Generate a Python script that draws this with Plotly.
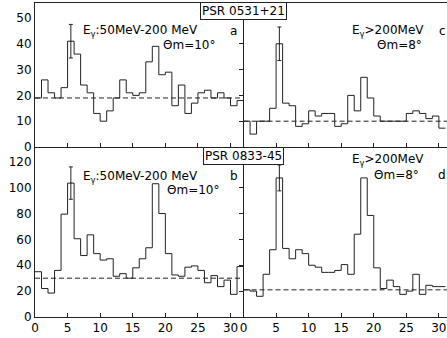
import plotly.graph_objects as go

# ---- data (counts per phase bin, bins of width 1 from 0) ----
vals_a = [19, 26, 21, 19, 23, 41, 36, 24, 21, 13, 10, 14, 19, 26, 21, 20,
          21, 33, 39, 28, 29, 16, 24, 13, 17, 21, 22, 19, 21, 19, 16, 18]
vals_c = [10, 5, 10, 10, 15, 40, 17, 16, 8, 9, 14, 12, 13, 13, 8, 9,
          20, 14, 27, 19, 12, 10, 10, 10, 10, 13, 14, 13, 11, 12, 7.3]
vals_b = [35, 22, 18.5, 36, 79.5, 103.5, 60.5, 47.5, 63.5, 49, 44, 45, 31.5, 33.5, 30, 38,
          45, 53.5, 103, 80, 49, 32.5, 31.5, 38.5, 39.5, 36, 26.5, 32, 23.5, 28.5, 17.5, 39]
vals_d = [21, 20, 16, 33, 52, 107.5, 53, 45, 52, 49, 40, 38.5, 34.5, 34.5, 36, 40.5,
          33, 64, 107.5, 78.5, 38, 22, 28.5, 23.5, 17.5, 20, 33, 17.5, 24.5, 23.5, 23.5]
bg_a, bg_c, bg_b, bg_d = 19, 10, 30, 21
err_a, err_c, err_b, err_d = 6.5, 6.5, 12.5, 10
err_bin = 5

x_ticks = [0, 5, 10, 15, 20, 25, 30]
top_ticks = [0, 10, 20, 30, 40, 50]
bot_ticks = [0, 20, 40, 60, 80, 100, 120]

LC = "#222222"
FONT = "DejaVu Sans"

fig = go.Figure()


def hist(vals, xa, ya):
    edges = list(range(len(vals) + 1))
    ys = list(vals) + [vals[-1]]
    fig.add_trace(go.Scatter(x=edges, y=ys, mode="lines", line=dict(shape="hv", color=LC, width=1),
                             xaxis=xa, yaxis=ya, showlegend=False, hoverinfo="skip"))


def bgline(bg, xa, ya, xmax):
    fig.add_trace(go.Scatter(x=[0, xmax], y=[bg, bg], mode="lines",
                             line=dict(color=LC, width=1, dash="5px,3px"),
                             xaxis=xa, yaxis=ya, showlegend=False, hoverinfo="skip"))


def errbar(vals, e, xa, ya):
    fig.add_trace(go.Scatter(x=[err_bin + 0.5], y=[vals[err_bin]], mode="markers",
                             marker=dict(size=1, color=LC),
                             error_y=dict(type="data", array=[e], color=LC, thickness=1, width=2),
                             xaxis=xa, yaxis=ya, showlegend=False, hoverinfo="skip"))


for vals, bg, e, xa, ya, xmax in [
    (vals_a, bg_a, err_a, "x", "y", 32),
    (vals_c, bg_c, err_c, "x2", "y2", 31.3),
    (vals_b, bg_b, err_b, "x3", "y3", 32),
    (vals_d, bg_d, err_d, "x4", "y4", 31.3),
]:
    bgline(bg, xa, ya, xmax)
    hist(vals, xa, ya)
    errbar(vals, e, xa, ya)

XL = [0, 0.5062]
XR = [0.5062, 1.0]
YB = [0, 0.5414]
YT = [0.5414, 1.0]

common_x = dict(showgrid=False, zeroline=False, showline=True, linecolor=LC, linewidth=1,
                ticks="inside", ticklen=4, tickcolor=LC, tickvals=x_ticks,
                tickfont=dict(family=FONT, size=12, color="black"))
common_y = dict(showgrid=False, zeroline=False, showline=True, linecolor=LC, linewidth=1,
                tickfont=dict(family=FONT, size=12, color="black"))

fig.update_layout(
    width=447, height=338,
    margin=dict(l=35, r=0, t=3, b=21),
    paper_bgcolor="white", plot_bgcolor="white",
    font=dict(family=FONT, size=12, color="black"),
    xaxis=dict(domain=XL, range=[0, 32], anchor="y", showticklabels=False, mirror=True, **common_x),
    xaxis2=dict(domain=XR, range=[0, 31.25], anchor="y2", showticklabels=False, mirror=True, **common_x),
    xaxis3=dict(domain=XL, range=[0, 32], anchor="y3", **common_x),
    xaxis4=dict(domain=XR, range=[0, 31.25], anchor="y4", **common_x),
    yaxis=dict(domain=YT, range=[0, 55.8], anchor="x", tickvals=top_ticks, ticks="", **common_y),
    yaxis2=dict(domain=YT, range=[0, 55.8], anchor="x2", tickvals=top_ticks, ticks="outside",
                ticklen=4, tickcolor=LC, showticklabels=False, **common_y),
    yaxis3=dict(domain=YB, range=[0, 131.4], anchor="x3", tickvals=bot_ticks, ticks="", **common_y),
    yaxis4=dict(domain=YB, range=[0, 131.4], anchor="x4", tickvals=bot_ticks, ticks="outside",
                ticklen=4, tickcolor=LC, showticklabels=False, **common_y),
)

ann = []


def txt(text, x, y, xr, yr, size=12, **kw):
    d = dict(text=text, x=x, y=y, xref=xr, yref=yr, showarrow=False,
             font=dict(family=FONT, size=size, color="black"), xanchor="center", yanchor="middle")
    d.update(kw)
    ann.append(d)


# PSR labels in boxes on the divider (paper coordinates)
txt("PSR 0531+21", 0.507, 0.973, "paper", "paper", size=12, bordercolor=LC, borderwidth=1,
    borderpad=1, bgcolor="white")
txt("PSR 0833-45", 0.507, 0.513, "paper", "paper", size=12, bordercolor=LC, borderwidth=1,
    borderpad=1, bgcolor="white")

# panel a
txt("E<sub>γ</sub>:50MeV-200 MeV", 7.1, 45.0, "x", "y", xanchor="left")
txt("Θm=10°", 23.7, 39.6, "x", "y")
txt("a", 30.5, 45.0, "x", "y")
# panel c
txt("E<sub>γ</sub>>200MeV", 16.3, 45.0, "x2", "y2", xanchor="left")
txt("Θm=8°", 24.0, 39.6, "x2", "y2")
txt("c", 30.5, 45.0, "x2", "y2")
# panel b
txt("E<sub>γ</sub>:50MeV-200 MeV", 7.1, 108.5, "x3", "y3", xanchor="left")
txt("Θm=10°", 24.2, 98.2, "x3", "y3")
txt("b", 30.5, 109.0, "x3", "y3")
# panel d
txt("E<sub>γ</sub>>200MeV", 16.3, 121.2, "x4", "y4", xanchor="left")
txt("Θm=8°", 23.5, 110.0, "x4", "y4")
txt("d", 30.5, 109.7, "x4", "y4")

fig.update_layout(annotations=ann)

fig.write_html("out.html")
